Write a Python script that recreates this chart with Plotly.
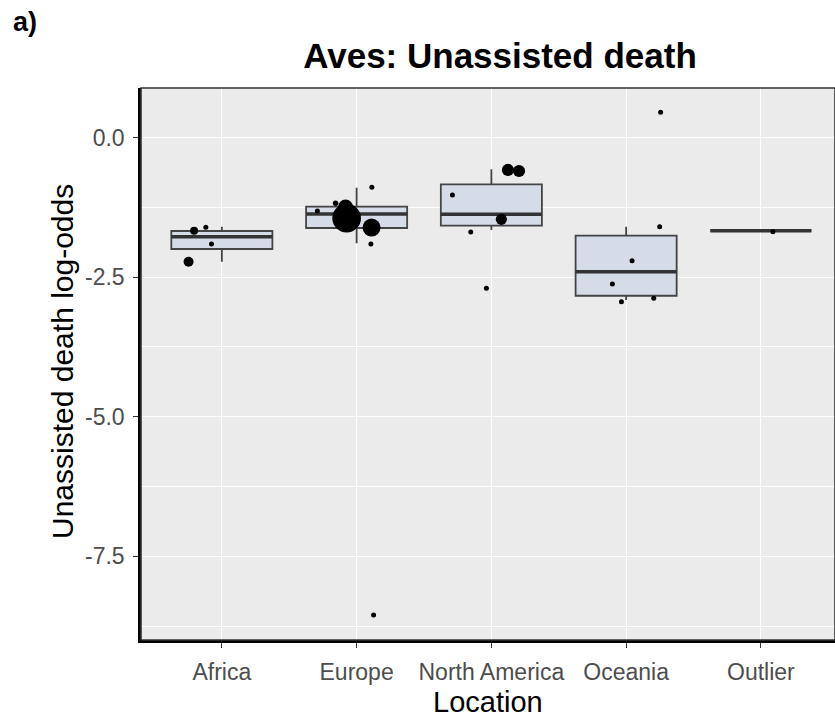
import numpy as np
import plotly.graph_objects as go

# ---- data ----
locations = ["Africa", "Europe", "North America", "Oceania", "Outlier"]

# box statistics (log-odds) per location
box_q1 = [-1.995, -1.618, -1.577, -2.832, -1.667]
box_median = [-1.774, -1.367, -1.373, -2.401, -1.667]
box_q3 = [-1.672, -1.237, -0.835, -1.756, -1.667]
box_low = [-2.222, -1.892, -1.654, -2.909, -1.667]
box_high = [-1.595, -0.896, -0.566, -1.595, -1.667]

# individual estimates
pt_location = (["Africa"] * 4 + ["Europe"] * 8 + ["North America"] * 6
               + ["Oceania"] * 6 + ["Outlier"] * 1)
pt_logodds = [-2.222, -1.667, -1.606, -1.905,
              -0.889, -1.176, -1.314, -1.44, -1.242, -1.61, -1.905, -8.55,
              -0.579, -0.597, -1.027, -1.463, -1.69, -2.70,
              0.455, -1.595, -2.204, -2.622, -2.939, -2.878,
              -1.685]
pt_jitter = [-0.247, -0.206, -0.119, -0.077,
             0.113, -0.156, -0.291, -0.074, -0.082, 0.111, 0.106, 0.126,
             0.123, 0.205, -0.289, 0.074, -0.153, -0.037,
             0.256, 0.249, 0.044, -0.102, -0.035, 0.205,
             0.089]
pt_n = [4, 2.6, 1, 1,
        1, 1.2, 1, 33, 9, 13, 1, 1,
        6, 6, 1, 5, 1, 1,
        1, 1, 1, 1, 1, 1,
        1]

# ---- figure ----
pos = {loc: i for i, loc in enumerate(locations)}
box_x = [pos[l] for l in locations]
pt_x = [pos[l] + j for l, j in zip(pt_location, pt_jitter)]
pt_size = [5.0 * np.sqrt(n) for n in pt_n]

W, H = 835, 717
L, T, B = 141, 88, 77
PW, PH = W - L, H - T - B

fig = go.Figure()
fig.add_trace(go.Box(
    x=box_x, q1=box_q1, median=box_median, q3=box_q3,
    lowerfence=box_low, upperfence=box_high,
    width=0.75, whiskerwidth=0,
    fillcolor="#D5DCE8", line=dict(color="#444444", width=1.8),
    boxpoints=False, hoverinfo="skip", showlegend=False,
))
# thicker median line
fig.add_trace(go.Box(
    x=box_x, q1=box_median, median=box_median, q3=box_median,
    lowerfence=box_median, upperfence=box_median,
    width=0.75, whiskerwidth=0,
    fillcolor="rgba(0,0,0,0)", line=dict(color="#333333", width=3.4),
    boxpoints=False, hoverinfo="skip", showlegend=False,
))
fig.add_trace(go.Scatter(
    x=pt_x, y=pt_logodds, mode="markers",
    marker=dict(color="black", size=pt_size, opacity=1, line=dict(width=0)),
    showlegend=False,
))

fig.update_layout(
    width=W, height=H,
    margin=dict(l=L, r=0, t=T, b=B, autoexpand=False),
    paper_bgcolor="white", plot_bgcolor="#EBEBEB",
    font=dict(family="Liberation Sans, Arial, sans-serif", color="black"),
    title=dict(text="<b>Aves: Unassisted death</b>", x=500 / W,
               xanchor="center", y=1 - 56 / H, yanchor="middle",
               font=dict(size=35, color="black")),
    showlegend=False,
)
fig.update_xaxes(
    range=[-0.6, 4.55], tickmode="array", tickvals=list(range(len(locations))),
    ticktext=locations, showgrid=True, gridcolor="white", gridwidth=1.4,
    zeroline=False, showline=True, linecolor="black", linewidth=3,
    ticks="outside", ticklen=5, tickcolor="#333333", tickwidth=1.3,
    tickfont=dict(size=23, color="#4D4D4D"), ticklabelstandoff=4,
    automargin=False,
)
fig.update_yaxes(
    range=[-9.0, 0.89], tickmode="array", tickvals=[0, -2.5, -5, -7.5],
    ticktext=["0.0", "-2.5", "-5.0", "-7.5"],
    showgrid=True, gridcolor="white", gridwidth=1.4,
    minor=dict(tickmode="array", tickvals=[-1.25, -3.75, -6.25, -8.75],
               showgrid=True, gridcolor="white", gridwidth=0.7, ticks=""),
    zeroline=False, showline=True, linecolor="black", linewidth=2.5,
    ticks="outside", ticklen=5, tickcolor="#333333", tickwidth=1.3,
    tickfont=dict(size=23, color="#4D4D4D"), ticklabelstandoff=4,
    automargin=False,
)
# axis titles
fig.add_annotation(text="Location", xref="paper", yref="paper",
                   x=(488 - L) / PW, y=-(702 - (T + PH)) / PH,
                   xanchor="center", yanchor="middle", showarrow=False,
                   font=dict(size=29, color="black"))
fig.add_annotation(text="Unassisted death log-odds", xref="paper", yref="paper",
                   x=(62 - L) / PW, y=1 - (362 - T) / PH, textangle=-90,
                   xanchor="center", yanchor="middle", showarrow=False,
                   font=dict(size=30, color="black"))
# panel border
fig.add_shape(type="rect", xref="paper", yref="paper", x0=0, x1=1, y0=0, y1=1,
              line=dict(color="#333333", width=1.6), fillcolor="rgba(0,0,0,0)",
              layer="above")
fig.add_annotation(text="<b>a)</b>", xref="paper", yref="paper",
                   x=(25 - L) / PW, y=1 + (T - 22) / PH,
                   xanchor="center", yanchor="middle",
                   showarrow=False, font=dict(size=27, color="black"))

fig.write_html("out.html", config={"displayModeBar": False},
               post_script="document.body.style.margin='0';"
                           "document.body.style.overflow='hidden';")
